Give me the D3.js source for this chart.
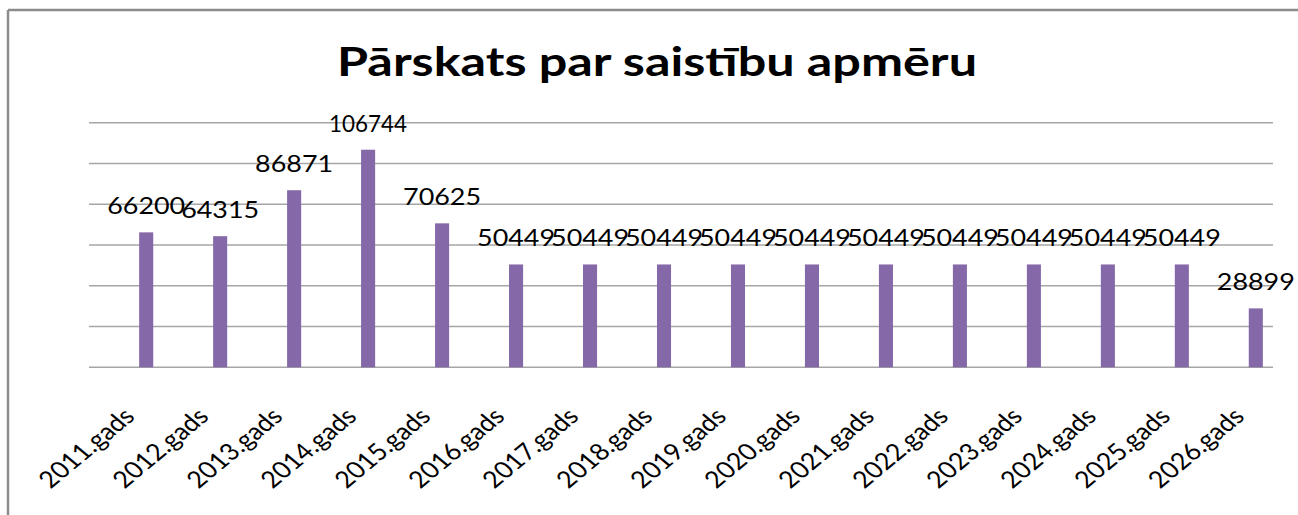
<!DOCTYPE html>
<html lang="lv">
<head>
<meta charset="UTF-8">
<title>Pārskats par saistību apmēru</title>
<script src="https://d3js.org/d3.v7.min.js"></script>
<style>
    body { margin: 0; background: #fff; }
    svg { display: block; }
    .title { font-family: Lato, sans-serif; font-weight: bold; font-size: 41px; fill: #000; }
    .val { font-family: Lato, sans-serif; font-size: 23.5px; fill: #000; }
    .cat { font-family: Lato, sans-serif; font-size: 23.5px; fill: #000; }
</style>
</head>
<body>
<svg id="chart" width="1298" height="515"></svg>
<script>
    const title = "Pārskats par saistību apmēru";
    const years = ["2011.gads", "2012.gads", "2013.gads", "2014.gads", "2015.gads", "2016.gads",
        "2017.gads", "2018.gads", "2019.gads", "2020.gads", "2021.gads", "2022.gads",
        "2023.gads", "2024.gads", "2025.gads", "2026.gads"];
    const amounts = [66200, 64315, 86871, 106744, 70625, 50449, 50449, 50449, 50449, 50449,
        50449, 50449, 50449, 50449, 50449, 28899];
    const gridValues = [0, 20000, 40000, 60000, 80000, 100000, 120000];

    const svg = d3.select("#chart");

    // frame (only top and left edges are visible in the picture)
    svg.append("line").attr("x1", 8).attr("x2", 1298).attr("y1", 10).attr("y2", 10)
        .attr("stroke", "#8c8c8c").attr("stroke-width", 2.5);
    svg.append("line").attr("x1", 8).attr("x2", 8).attr("y1", 10).attr("y2", 515)
        .attr("stroke", "#8c8c8c").attr("stroke-width", 2.5);

    const y = d3.scaleLinear().domain([0, 120000]).range([367.3, 122.7]);
    const x = d3.scaleBand().domain(years).range([109.2, 1292.8]).paddingInner(0.81).paddingOuter(0.405);

    svg.append("g").selectAll("line")
        .data(gridValues)
        .join("line")
        .attr("x1", 89).attr("x2", 1273)
        .attr("y1", d => y(d)).attr("y2", d => y(d))
        .attr("stroke", "#a6a6a6").attr("stroke-width", 1.5);

    svg.append("g").selectAll("rect")
        .data(amounts)
        .join("rect")
        .attr("x", (d, i) => x(years[i]))
        .attr("width", x.bandwidth())
        .attr("y", d => y(d))
        .attr("height", d => y(0) - y(d))
        .attr("fill", "#8468a8");

    svg.append("g").selectAll("text")
        .data(amounts)
        .join("text")
        .attr("class", "val")
        .attr("x", (d, i) => x(years[i]) + x.bandwidth() / 2)
        .attr("y", d => y(d) - 18)
        .attr("text-anchor", "middle")
        .attr("textLength", 78)
        .attr("lengthAdjust", "spacingAndGlyphs")
        .text(d => d);

    // category labels, slanted like the stretched original
    svg.append("g").selectAll("text")
        .data(years)
        .join("text")
        .attr("class", "cat")
        .attr("text-anchor", "end")
        .attr("textLength", 101)
        .attr("lengthAdjust", "spacingAndGlyphs")
        .attr("transform", d => `translate(${x(d) + x.bandwidth() / 2 - 10},418) scale(1.2,1) rotate(-45)`)
        .text(d => d);

    svg.append("text")
        .attr("class", "title")
        .attr("x", 657).attr("y", 76)
        .attr("text-anchor", "middle")
        .attr("textLength", 640)
        .attr("lengthAdjust", "spacingAndGlyphs")
        .text(title);
</script>
</body>
</html>
